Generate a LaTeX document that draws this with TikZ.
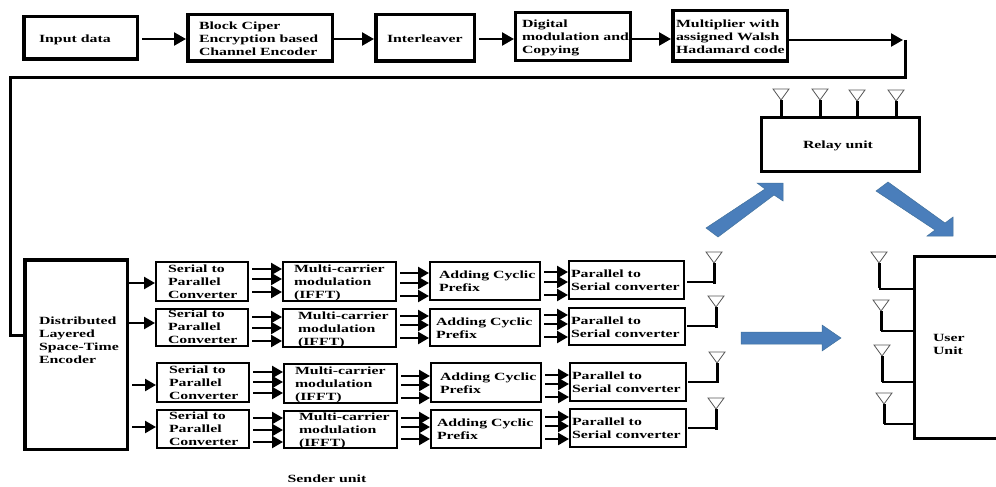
\documentclass[tikz,border=0pt]{standalone}
\usepackage{fontspec}
\setmainfont{Liberation Serif}[FakeStretch=1.44]
\usetikzlibrary{arrows.meta}
\definecolor{flowblue}{HTML}{4A7EBB}
\definecolor{flowedge}{HTML}{41719C}
\tikzset{
  x=1pt,y=-1pt,
  link/.style={line width=2.4pt,-{Triangle[length=11pt,width=12pt]}},
  toplink/.style={line width=2.4pt,-{Triangle[length=12pt,width=13pt]}},
  trunk/.style={line width=3pt,line join=miter},
  stem/.style={line width=3pt},
  wire/.style={line width=2pt},
  anttri/.style={draw=black!65,line width=0.8pt,fill=white},
  bluearrow/.style={fill=flowblue,draw=flowedge,line width=0.5pt},
  label/.style={font=\fontsize{11}{13}\selectfont\bfseries,inner sep=0pt}
}
% name, line width, x1, y1, x2, y2, text inset, raise, text
\newcommand{\bx}[9]{%
  \pgfmathsetmacro{\bxw}{#5-#3-#2}%
  \pgfmathsetmacro{\bxh}{#6-#4-#2}%
  \node[draw,line width=#2pt,inner sep=0pt,minimum width=\bxw pt,minimum height=\bxh pt,
        font=\fontsize{11}{13}\selectfont\bfseries]
    (#1) at ({(#3+#5)/2},{(#4+#6)/2})
    {\makebox[\bxw pt][l]{\hspace*{\dimexpr #7pt-#2pt/2\relax}\raisebox{\dimexpr #8pt-4.6pt\relax}[0pt][0pt]{\begin{tabular}[c]{@{}l@{}}#9\end{tabular}}}};}
\newcommand{\ant}[3]{%
  \draw[anttri] (#2-8,#3) -- (#2+8,#3) -- (#2,#3+11) -- cycle;
  \coordinate (#1) at (#2,#3+11);}
\newcommand{\tri}[5]{%
  \draw[link] (#1.east |- 0,#3) ++(3,0) -- (#2.west |- 0,#3);
  \draw[link] (#1.east |- 0,#4) ++(3,0) -- (#2.west |- 0,#4);
  \draw[link] (#1.east |- 0,#5) ++(3,0) -- (#2.west |- 0,#5);}
\newcommand{\SP}{Serial to\\Parallel\\Converter}
\newcommand{\MC}{Multi-carrier\\modulation\\(IFFT)}
\newcommand{\AC}{Adding Cyclic\\Prefix}
\newcommand{\PS}{Parallel to\\Serial converter}
\begin{document}
\begin{tikzpicture}
\useasboundingbox (0,0) rectangle (996,487);
\clip (0,0) rectangle (996,487);
% top chain
\bx{input}{3.5}{22}{15}{139}{61}{17}{0}{Input data}
\bx{cipher}{3.5}{186}{13}{334}{63}{13}{0}{Block Ciper\\Encryption based\\Channel Encoder}
\bx{inter}{3.5}{374}{13}{476}{63}{13}{0}{Interleaver}
\bx{digital}{3}{514}{11}{632}{62}{8}{0}{Digital\\modulation and\\Copying}
\bx{walsh}{3.5}{671}{9}{789}{63}{5}{0}{Multiplier with\\assigned Walsh\\Hadamard code}
\draw[toplink] (input.east |- 0,39) ++(3,0) -- (cipher.west |- 0,39);
\draw[toplink] (cipher.east |- 0,39) -- (inter.west |- 0,39);
\draw[toplink] (inter.east |- 0,39) ++(3,0) -- (digital.west |- 0,39);
\draw[toplink] (digital.east |- 0,39) -- (walsh.west |- 0,39);
\coordinate (turnA) at (905,40);
\coordinate (turnB) at (905,78);
\coordinate (turnC) at (10,78);
\coordinate (turnD) at (10,335);
\draw[toplink] (walsh.east |- turnA) -- (903,40);
% encoder
\bx{enc}{3.5}{23}{258}{129}{451}{16}{15}{Distributed\\Layered\\Space-Time\\Encoder}
\draw[trunk] (turnA) -- (turnB) -- (turnC) -- (turnD) -- (enc.west |- turnD);
% rows
\bx{sa}{2}{155}{261}{249}{302}{13}{0}{\SP}
\bx{sb}{2}{155}{308}{249}{347}{13}{1}{\SP}
\bx{sc}{2}{156}{362}{250}{403}{13}{0}{\SP}
\bx{sd}{2}{156}{409}{250}{449}{13}{1}{\SP}
\bx{ma}{2}{282}{261}{397}{302}{12}{0}{\MC}
\bx{mb}{2}{282}{308}{397}{348}{16}{0}{\MC}
\bx{mc}{2}{283}{363}{398}{404}{12}{0}{\MC}
\bx{md}{2}{283}{410}{398}{449}{16}{0}{\MC}
\bx{ca}{2}{429}{261}{541}{301}{10}{0}{\AC}
\bx{cb}{2}{429}{308}{541}{347}{7}{0}{\AC}
\bx{cc}{2}{430}{362}{542}{403}{10}{0}{\AC}
\bx{cd}{2}{430}{409}{542}{449}{7}{0}{\AC}
\bx{pa}{2}{568}{260}{685}{300}{3}{0}{\PS}
\bx{pb}{2}{568}{307}{686}{346}{3}{0}{\PS}
\bx{pc}{2}{569}{362}{687}{402}{3}{0}{\PS}
\bx{pd}{2}{569}{408}{687}{448}{3}{0}{\PS}
\draw[link] (enc.east |- 0,283) -- (sa.west |- 0,283);
\draw[link] (enc.east |- 0,323) -- (sb.west |- 0,323);
\draw[link] (enc.east |- 0,385) ++(3,0) -- (sc.west |- 0,385);
\draw[link] (enc.east |- 0,427) ++(3,0) -- (sd.west |- 0,427);
\tri{sa}{ma}{269}{279}{292}
\tri{sb}{mb}{317}{328}{341}
\tri{sc}{mc}{372}{382}{393}
\tri{sd}{md}{418}{430}{442}
\tri{ma}{ca}{273}{283}{296}
\tri{mb}{cb}{316}{325}{338}
\tri{mc}{cc}{376}{385}{398}
\tri{md}{cd}{418}{427}{439}
\tri{ca}{pa}{272}{282}{295}
\tri{cb}{pb}{315}{324}{337}
\tri{cc}{pc}{375}{384}{397}
\tri{cd}{pd}{417}{426}{439}
% sender antennas
\ant{ta}{714}{252}
\ant{tb}{716}{296}
\ant{tc}{717}{352}
\ant{td}{716}{398}
\coordinate (ka) at (714,284);
\coordinate (kb) at (716,328);
\coordinate (kc) at (717,383);
\coordinate (kd) at (716,430);
\draw[stem] (ta) -- (ka); \draw[wire] (pa.east |- 0,282) ++(2,0) -- (ta |- 0,282);
\draw[stem] (tb) -- (kb); \draw[wire] (pb.east |- 0,326) ++(1,0) -- (tb |- 0,326);
\draw[stem] (tc) -- (kc); \draw[wire] (pc.east |- 0,382) ++(1,0) -- (tc |- 0,382);
\draw[stem] (td) -- (kd); \draw[wire] (pd.east |- 0,428) ++(1,0) -- (td |- 0,428);
\node[label] (sender) at (327,479) {Sender unit};
% relay
\bx{relay}{3}{760}{116}{921}{173}{43}{0}{Relay unit}
\ant{ra}{781}{89}
\ant{rb}{820}{89}
\ant{rc}{857}{90}
\ant{rd}{896}{90}
\draw[stem] (ra) -- (ra |- relay.north);
\draw[stem] (rb) -- (rb |- relay.north);
\draw[stem] (rc) -- (rc |- relay.north);
\draw[stem] (rd) -- (rd |- relay.north);
% user
\bx{user}{3}{913}{255}{1003}{440}{20}{4}{User\\Unit}
\ant{ua}{879}{252}
\ant{ub}{881}{300}
\ant{uc}{882}{345}
\ant{ud}{884}{393}
\draw[stem] (ua) -- (879,288); \draw[wire] (879,289) -- (user.west |- 0,289);
\draw[stem] (ub) -- (881,331); \draw[wire] (881,331) -- (user.west |- 0,331);
\draw[stem] (uc) -- (882,382); \draw[wire] (882,382) -- (user.west |- 0,382);
\draw[stem] (ud) -- (884,424); \draw[wire] (884,424) -- (user.west |- 0,424);
% block arrows
\draw[bluearrow] (706,228) -- (718,237) -- (774,195) -- (783,201) -- (783,183) -- (757,183) -- (765,189) -- cycle;
\draw[bluearrow] (876,191) -- (888,182) -- (945,223) -- (953,217) -- (953,236) -- (927,236) -- (935,230) -- cycle;
\draw[bluearrow] (741,332) -- (822,332) -- (822,325) -- (841,338) -- (822,351) -- (822,344) -- (741,344) -- cycle;
\end{tikzpicture}
\end{document}
